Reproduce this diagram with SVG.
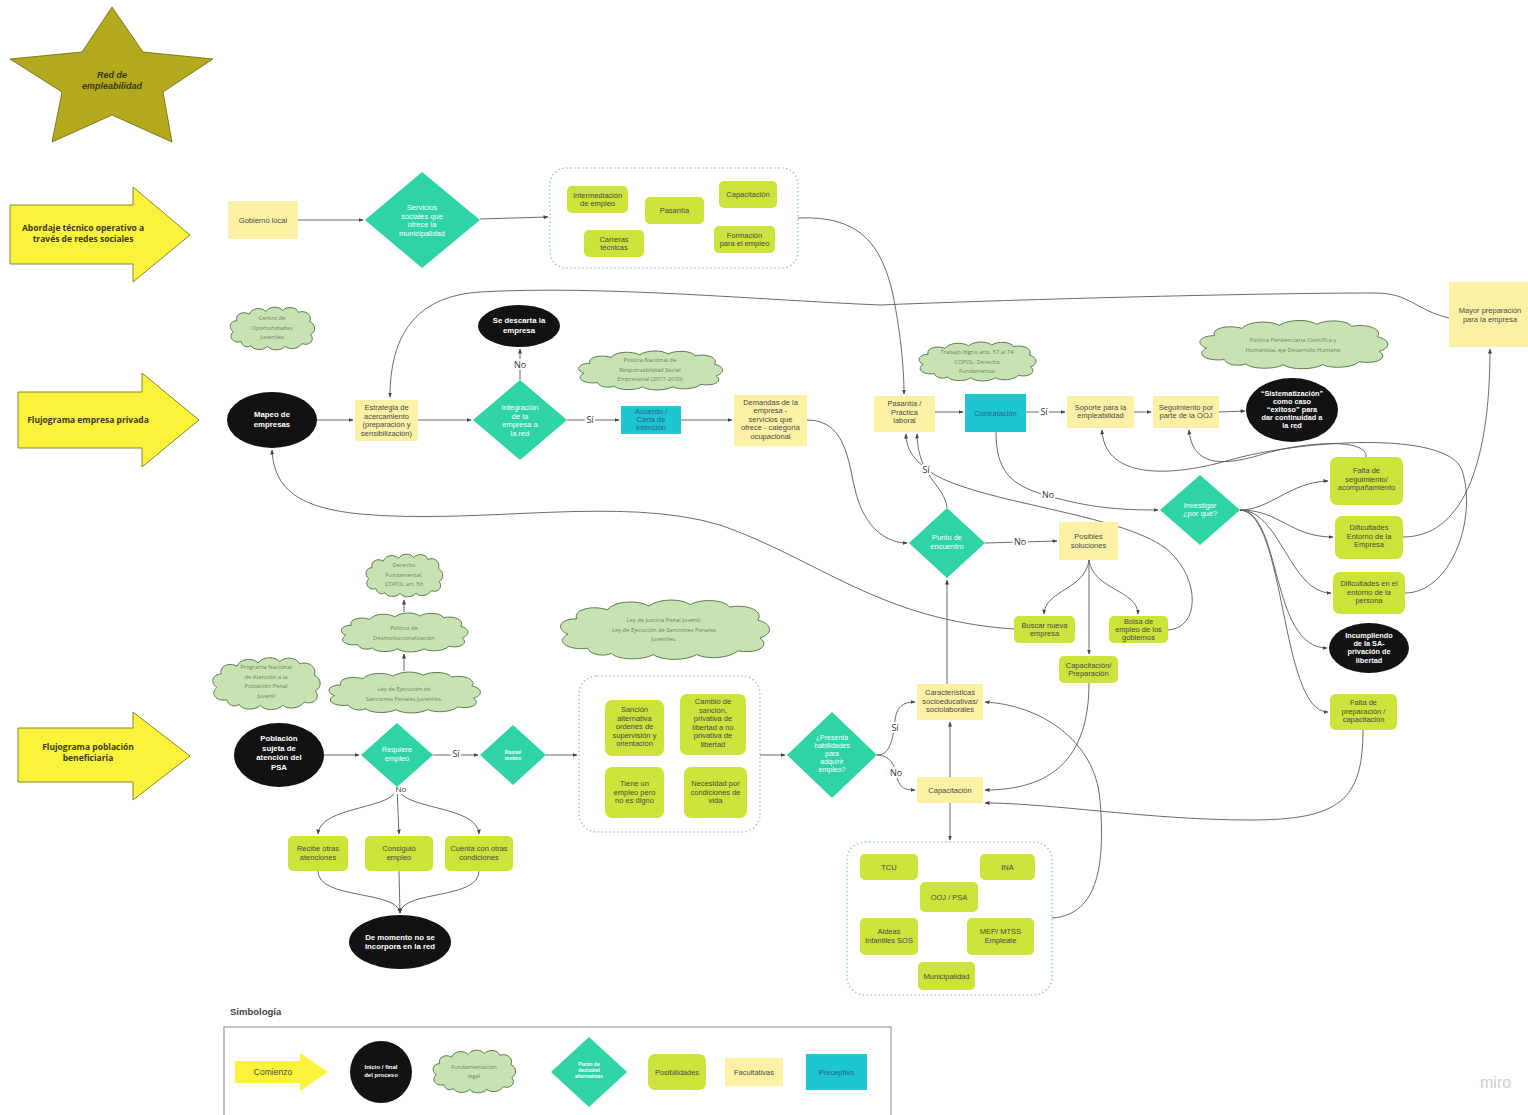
<svg xmlns="http://www.w3.org/2000/svg" width="1528" height="1115" viewBox="0 0 1528 1115">
<style>
text{font-family:"Liberation Sans",Arial,sans-serif}
.t{font-size:7.5px;fill:#4a4a4a;text-anchor:middle}
.w{font-size:7.5px;fill:#fff;text-anchor:middle}
.wb{font-size:7.8px;fill:#fff;text-anchor:middle;font-weight:bold}
.cl{font-family:"Open Sans","Liberation Sans",sans-serif;font-size:5.8px;fill:#6f7f62;text-anchor:middle}
.ar{font-family:"Open Sans","Liberation Sans",sans-serif;font-size:8.5px;font-weight:bold;fill:#3a3a10;text-anchor:middle}
.lb{font-family:"Open Sans","Liberation Sans",sans-serif;font-size:9px;fill:#333;text-anchor:middle;paint-order:stroke;stroke:#fff;stroke-width:4px}
.fy{fill:#fdf1a6}
.fl{fill:#cde23a}
.fc{fill:#1ec6d0}
.fd{fill:#2ed3a6}
.fb{fill:#121212}
.ya{fill:#fbf33b;stroke:#8a862e;stroke-width:1}
.grp{fill:none;stroke:#a9c8dc;stroke-width:1.6;stroke-dasharray:1.5 2.5}
.cn path{fill:none;stroke:#5a5a5a;stroke-width:0.9}
.cn .a{marker-end:url(#ah)}
</style>
<defs>
<marker id="ah" viewBox="0 0 10 10" refX="9" refY="5" markerWidth="5" markerHeight="5" orient="auto" markerUnits="userSpaceOnUse"><path d="M0,1 L10,5 L0,9 Z" fill="#444"/></marker>
<symbol id="cloud" viewBox="0 0 100 50" preserveAspectRatio="none"><path d="M15,40 C5,42 0,34 6,29 C0,25 2,17 10,17 C8,10 17,6 24,10 C27,3 38,2 43,7 C48,1 58,1 62,6 C67,1 78,2 80,8 C88,5 96,11 93,18 C100,21 100,29 94,32 C99,38 93,45 84,42 C80,48 70,49 65,45 C60,50 49,50 45,45 C40,50 28,49 26,44 C22,47 16,45 15,40 Z" fill="#c7e3b2" stroke="#5f7a50" stroke-width="1" vector-effect="non-scaling-stroke"/></symbol>
</defs>
<rect width="1528" height="1115" fill="#fff"/>

<g id="star"><polygon points="112,7 143,52 213,59 163,92 172,142 112,115 52,142 62,92 10,59 82,52" fill="#b3a91c" stroke="#6b6410" stroke-width="0.8"/><text x="112" y="78" text-anchor="middle" font-family="Open Sans,Liberation Sans,sans-serif" font-size="9" font-weight="bold" font-style="italic" fill="#3a3a10">Red de<tspan x="112" dy="11">empleabilidad</tspan></text></g>

<g id="arrow-abordaje"><polygon class="ya" points="10,205 133,205 133,187 190,235 133,282 133,264 10,264"/><text class="ar" x="83" y="231">Abordaje técnico operativo a<tspan x="83" dy="11">través de redes sociales</tspan></text></g>
<g id="arrow-empresa"><polygon class="ya" points="18,392 142,392 142,373 199,420 142,467 142,448 18,448"/><text class="ar" x="88" y="423">Flujograma empresa privada</text></g>
<g id="arrow-poblacion"><polygon class="ya" points="18,728 133,728 133,712 190,756 133,800 133,782 18,782"/><text class="ar" x="88" y="750">Flujograma población<tspan x="88" dy="11">beneficiaria</tspan></text></g>

<g class="cn" id="connectors">
<path class="a" d="M298,220 L363,220"/>
<path class="a" d="M480,219 L548,217"/>
<path class="a" d="M798,218 C860,215 882,245 893,295 C901,335 904,370 904,394"/>
<path class="a" d="M1449,318 C1415,310 1410,293 1375,293 C1250,293 1000,300 880,305 C760,300 600,285 480,292 C420,296 390,330 390,397"/>
<path class="a" d="M317,420 L353,420"/>
<path class="a" d="M418,420 L471,420"/>
<path class="a" d="M520,380 L520,349"/>
<path class="a" d="M567,420 L619,420"/>
<path class="a" d="M681,420 L732,420"/>
<path class="a" d="M807,420 C850,420 848,470 858,500 C868,530 888,543 907,543"/>
<path class="a" d="M935,412 L963,412"/>
<path class="a" d="M1026,412 L1065,412"/>
<path class="a" d="M1134,412 L1151,412"/>
<path class="a" d="M1219,412 L1245,411"/>
<path class="a" d="M996,432 C996,470 1010,485 1045,495 C1090,508 1120,510 1158,510"/>
<path class="a" d="M1240,510 C1270,510 1290,482 1328,481"/>
<path class="a" d="M1240,510 C1280,510 1290,537 1333,537"/>
<path class="a" d="M1240,510 C1280,510 1290,593 1331,593"/>
<path class="a" d="M1240,510 C1282,512 1270,648 1327,648"/>
<path class="a" d="M1240,510 C1286,512 1280,712 1328,712"/>
<path class="a" d="M1366,457 C1368,437 1300,442 1260,455 C1220,467 1192,465 1189,430"/>
<path class="a" d="M1405,593 C1450,593 1478,520 1462,470 C1447,430 1300,440 1230,460 C1160,480 1104,475 1102,430"/>
<path class="a" d="M1403,537 C1460,537 1490,470 1490,349"/>
<path class="a" d="M1363,730 C1363,800 1340,820 1250,820 C1150,820 1050,803 985,803"/>
<path class="a" d="M947,508 C945,485 918,478 917,434"/>
<path class="a" d="M1168,630 C1200,628 1200,580 1170,552 C1130,515 990,505 935,475 C915,462 906,450 906,434"/>
<path class="a" d="M985,543 L1057,541"/>
<path class="a" d="M1089,560 C1085,590 1045,590 1044,614"/>
<path class="a" d="M1089,560 C1093,590 1138,590 1138,614"/>
<path class="a" d="M1089,560 L1089,654"/>
<path class="a" d="M1014,629 C880,620 820,560 720,525 C620,495 480,525 360,514 C300,508 274,490 272,450"/>
<path class="a" d="M1089,683 C1089,760 1050,790 985,790"/>
<path class="a" d="M947,684 L947,580"/>
<path class="a" d="M950,777 L950,722"/>
<path class="a" d="M950,803 L950,840"/>
<path class="a" d="M1052,918 C1100,915 1105,860 1100,800 C1095,740 1040,705 985,702"/>
<path class="a" d="M877,755 C890,755 893,740 895,720 C897,705 905,702 915,702"/>
<path class="a" d="M877,755 C890,755 895,765 897,778 C900,788 905,790 915,790"/>
<path class="a" d="M760,755 L785,755"/>
<path class="a" d="M324,755 L359,755"/>
<path class="a" d="M433,755 L478,755"/>
<path class="a" d="M546,755 L577,755"/>
<path class="a" d="M397,787 C397,810 320,805 318,834"/>
<path class="a" d="M397,787 L399,834"/>
<path class="a" d="M397,787 C400,810 478,805 479,834"/>
<path class="a" d="M318,871 C318,900 398,890 400,913"/>
<path class="a" d="M399,871 L400,913"/>
<path class="a" d="M479,871 C479,900 402,890 400,913"/>
<path class="a" d="M404,671 L404,654"/>
<path class="a" d="M404,612 L404,600"/>
<text class="lb" x="520" y="368">No</text>
<text class="lb" x="590" y="423">Sí</text>
<text class="lb" x="1044" y="415">Sí</text>
<text class="lb" x="1048" y="498">No</text>
<text class="lb" x="926" y="473">Sí</text>
<text class="lb" x="1020" y="545">No</text>
<text class="lb" x="895" y="731">Sí</text>
<text class="lb" x="896" y="776">No</text>
<text class="lb" x="456" y="757">Sí</text>
<text class="lb" x="401" y="792" style="font-size:8px">No</text>
</g>

<g id="gobierno-local"><rect class="fy" x="228" y="201" width="70" height="38"/><text class="t" x="263" y="222.6">Gobierno local</text></g>
<g id="servicios"><polygon class="fd" points="422,172 480,220 422,268 365,220"/><text class="w" x="422" y="210">Servicios<tspan x="422" dy="8.5">sociales que</tspan><tspan x="422" dy="8.5">ofrece la</tspan><tspan x="422" dy="8.5">municipalidad</tspan></text></g>
<g id="grupo-servicios"><rect class="grp" x="550" y="168" width="248" height="100" rx="16"/>
<rect class="fl" x="567" y="186" width="61" height="27" rx="5"/><text class="t" x="597.5" y="197.5">Intermediación<tspan x="597.5" dy="8.5">de empleo</tspan></text>
<rect class="fl" x="645" y="197" width="59" height="27" rx="5"/><text class="t" x="674.5" y="213">Pasantía</text>
<rect class="fl" x="719" y="181" width="58" height="27" rx="5"/><text class="t" x="748" y="197">Capacitación</text>
<rect class="fl" x="584" y="230" width="60" height="27" rx="5"/><text class="t" x="614" y="241.5">Carreras<tspan x="614" dy="8.5">técnicas</tspan></text>
<rect class="fl" x="714" y="226" width="61" height="27" rx="5"/><text class="t" x="744.5" y="237.5">Formación<tspan x="744.5" dy="8.5">para el empleo</tspan></text></g>

<g id="centro-oportunidades"><use href="#cloud" x="228" y="305" width="88" height="46"/><text class="cl" x="272" y="320">Centro de<tspan x="272" dy="9.5">Oportunidades</tspan><tspan x="272" dy="9.5">Juveniles</tspan></text></g>
<g id="mapeo"><ellipse class="fb" cx="272" cy="420" rx="45" ry="28"/><text class="wb" x="272" y="417">Mapeo de<tspan x="272" dy="9.5">empresas</tspan></text></g>
<g id="estrategia"><rect class="fy" x="355" y="400" width="63" height="41"/><text class="t" x="386.5" y="410">Estrategia de<tspan x="386.5" dy="8.5">acercamiento</tspan><tspan x="386.5" dy="8.5">(preparación y</tspan><tspan x="386.5" dy="8.5">sensibilización)</tspan></text></g>
<g id="integracion"><polygon class="fd" points="520,380 567,420 520,460 473,420"/><text class="w" x="520" y="410">Integración<tspan x="520" dy="8.5">de la</tspan><tspan x="520" dy="8.5">empresa a</tspan><tspan x="520" dy="8.5">la red</tspan></text></g>
<g id="descarta"><ellipse class="fb" cx="519" cy="326" rx="41" ry="21"/><text class="wb" x="519" y="323">Se descarta la<tspan x="519" dy="9.5">empresa</tspan></text></g>
<g id="politica-rse"><use href="#cloud" x="575" y="349" width="150" height="42"/><text class="cl" x="650" y="362">Política Nacional de<tspan x="650" dy="9.5">Responsabilidad Social</tspan><tspan x="650" dy="9.5">Empresarial (2017-2030)</tspan></text></g>
<g id="acuerdo"><rect class="fc" x="621" y="406" width="60" height="28"/><text class="t" x="651" y="414" style="fill:#2a5f8a">Acuerdo /<tspan x="651" dy="8">Carta de</tspan><tspan x="651" dy="8">intención</tspan></text></g>
<g id="demandas"><rect class="fy" x="734" y="395" width="73" height="51"/><text class="t" x="770.5" y="404.5">Demandas de la<tspan x="770.5" dy="8.5">empresa -</tspan><tspan x="770.5" dy="8.5">servicios que</tspan><tspan x="770.5" dy="8.5">ofrece - categoría</tspan><tspan x="770.5" dy="8.5">ocupacional</tspan></text></g>
<g id="pasantia-practica"><rect class="fy" x="874" y="396" width="61" height="36"/><text class="t" x="904.5" y="406">Pasantía /<tspan x="904.5" dy="8.5">Práctica</tspan><tspan x="904.5" dy="8.5">laboral</tspan></text></g>
<g id="trabajo-digno"><use href="#cloud" x="916" y="340" width="122" height="42"/><text class="cl" x="977" y="354">Trabajo digno arts. 57 al 74<tspan x="977" dy="9.5">COPOL- Derecho</tspan><tspan x="977" dy="9.5">Fundamental</tspan></text></g>
<g id="contratacion"><rect class="fc" x="965" y="394" width="61" height="38"/><text class="t" x="995.5" y="415.5" style="fill:#2a5f8a">Contratación</text></g>
<g id="soporte"><rect class="fy" x="1067" y="396" width="67" height="32"/><text class="t" x="1100.5" y="409.5">Soporte para la<tspan x="1100.5" dy="8.5">empleabilidad</tspan></text></g>
<g id="seguimiento"><rect class="fy" x="1153" y="396" width="66" height="32"/><text class="t" x="1186" y="409.5">Seguimiento por<tspan x="1186" dy="8.5">parte de la OOJ</tspan></text></g>
<g id="sistematizacion"><ellipse class="fb" cx="1292" cy="410" rx="46" ry="32"/><text class="wb" x="1292" y="395.5" style="font-size:7.3px">“Sistematización”<tspan x="1292" dy="8">como caso</tspan><tspan x="1292" dy="8">“exitoso” para</tspan><tspan x="1292" dy="8">dar continuidad a</tspan><tspan x="1292" dy="8">la red</tspan></text></g>
<g id="politica-penitenciaria"><use href="#cloud" x="1195" y="318" width="196" height="52"/><text class="cl" x="1293" y="342">Política Penitenciaria Científica y<tspan x="1293" dy="10">Humanista, eje Desarrollo Humano</tspan></text></g>
<g id="mayor-preparacion"><rect class="fy" x="1449" y="282" width="79" height="65"/><text class="t" x="1490" y="313">Mayor preparación<tspan x="1490" dy="8.5">para la empresa</tspan></text></g>
<g id="investigar"><polygon class="fd" points="1200,475 1240,510 1200,545 1160,510"/><text class="w" x="1200" y="507.5">Investigar<tspan x="1200" dy="8.5">¿por qué?</tspan></text></g>
<g id="falta-seguimiento"><rect class="fl" x="1330" y="457" width="73" height="48" rx="7"/><text class="t" x="1366.5" y="473">Falta de<tspan x="1366.5" dy="8.5">seguimiento/</tspan><tspan x="1366.5" dy="8.5">acompañamiento</tspan></text></g>
<g id="dif-empresa"><rect class="fl" x="1335" y="516" width="68" height="43" rx="7"/><text class="t" x="1369" y="530">Dificultades<tspan x="1369" dy="8.5">Entorno de la</tspan><tspan x="1369" dy="8.5">Empresa</tspan></text></g>
<g id="dif-persona"><rect class="fl" x="1333" y="572" width="72" height="42" rx="7"/><text class="t" x="1369" y="586">Dificultades en el<tspan x="1369" dy="8.5">entorno de la</tspan><tspan x="1369" dy="8.5">persona</tspan></text></g>
<g id="incumpliendo"><ellipse class="fb" cx="1369" cy="648" rx="40" ry="25"/><text class="wb" x="1369" y="638" style="font-size:7.3px">Incumpliendo<tspan x="1369" dy="8.2">de la SA-</tspan><tspan x="1369" dy="8.2">privación de</tspan><tspan x="1369" dy="8.2">libertad</tspan></text></g>
<g id="falta-preparacion"><rect class="fl" x="1330" y="694" width="67" height="36" rx="6"/><text class="t" x="1363.5" y="705">Falta de<tspan x="1363.5" dy="8.5">preparación /</tspan><tspan x="1363.5" dy="8.5">capacitación</tspan></text></g>
<g id="punto-encuentro"><polygon class="fd" points="947,508 985,543 947,578 909,543"/><text class="w" x="947" y="540">Punto de<tspan x="947" dy="8.5">encuentro</tspan></text></g>
<g id="posibles"><rect class="fy" x="1059" y="522" width="59" height="38"/><text class="t" x="1088.5" y="539">Posibles<tspan x="1088.5" dy="8.5">soluciones</tspan></text></g>
<g id="buscar"><rect class="fl" x="1014" y="616" width="61" height="27" rx="5"/><text class="t" x="1044.5" y="627.5">Buscar nueva<tspan x="1044.5" dy="8.5">empresa</tspan></text></g>
<g id="bolsa"><rect class="fl" x="1109" y="616" width="59" height="27" rx="5"/><text class="t" x="1138.5" y="623.5">Bolsa de<tspan x="1138.5" dy="8">empleo de los</tspan><tspan x="1138.5" dy="8">gobiernos</tspan></text></g>
<g id="capacitacion-preparacion"><rect class="fl" x="1059" y="656" width="59" height="27" rx="5"/><text class="t" x="1088.5" y="667.5">Capacitación/<tspan x="1088.5" dy="8.5">Preparación</tspan></text></g>
<g id="caracteristicas"><rect class="fy" x="917" y="684" width="66" height="36"/><text class="t" x="950" y="695">Características<tspan x="950" dy="8.5">socioeducativas/</tspan><tspan x="950" dy="8.5">sociolaborales</tspan></text></g>
<g id="capacitacion"><rect class="fy" x="917" y="777" width="66" height="26"/><text class="t" x="950" y="792.6">Capacitación</text></g>
<g id="grupo-capacitacion"><rect class="grp" x="847" y="842" width="205" height="153" rx="18"/>
<rect class="fl" x="860" y="854" width="58" height="26" rx="5"/><text class="t" x="889" y="869.6">TCU</text>
<rect class="fl" x="980" y="854" width="55" height="26" rx="5"/><text class="t" x="1007.5" y="869.6">INA</text>
<rect class="fl" x="920" y="882" width="58" height="30" rx="5"/><text class="t" x="949" y="899.6">OOJ / PSA</text>
<rect class="fl" x="860" y="918" width="58" height="37" rx="5"/><text class="t" x="889" y="934">Aldeas<tspan x="889" dy="8.5">Infantiles SOS</tspan></text>
<rect class="fl" x="967" y="918" width="67" height="37" rx="5"/><text class="t" x="1000.5" y="934">MEP/ MTSS<tspan x="1000.5" dy="8.5">Empleate</tspan></text>
<rect class="fl" x="918" y="962" width="57" height="28" rx="5"/><text class="t" x="946.5" y="978.6">Municipalidad</text></g>
<g id="presenta"><polygon class="fd" points="832,712 877,755 832,798 787,755"/><text class="w" x="832" y="740" style="font-size:7px">¿Presenta<tspan x="832" dy="8">habilidades</tspan><tspan x="832" dy="8">para</tspan><tspan x="832" dy="8">adquirir</tspan><tspan x="832" dy="8">empleo?</tspan></text></g>
<g id="grupo-razones"><rect class="grp" x="579" y="676" width="181" height="156" rx="18"/>
<rect class="fl" x="605" y="700" width="59" height="56" rx="7"/><text class="t" x="634.5" y="712">Sanción<tspan x="634.5" dy="8.5">alternativa</tspan><tspan x="634.5" dy="8.5">ordenes de</tspan><tspan x="634.5" dy="8.5">supervisión y</tspan><tspan x="634.5" dy="8.5">orientación</tspan></text>
<rect class="fl" x="680" y="694" width="66" height="61" rx="7"/><text class="t" x="713" y="704">Cambio de<tspan x="713" dy="8.5">sanción,</tspan><tspan x="713" dy="8.5">privativa de</tspan><tspan x="713" dy="8.5">libertad a no</tspan><tspan x="713" dy="8.5">privativa de</tspan><tspan x="713" dy="8.5">libertad</tspan></text>
<rect class="fl" x="605" y="767" width="59" height="51" rx="7"/><text class="t" x="634.5" y="786">Tiene un<tspan x="634.5" dy="8.5">empleo pero</tspan><tspan x="634.5" dy="8.5">no es digno</tspan></text>
<rect class="fl" x="684" y="767" width="63" height="51" rx="7"/><text class="t" x="715.5" y="786">Necesidad por<tspan x="715.5" dy="8.5">condiciones de</tspan><tspan x="715.5" dy="8.5">vida</tspan></text></g>
<g id="ley-justicia"><use href="#cloud" x="555" y="597" width="218" height="64"/><text class="cl" x="664" y="622">Ley de Justicia Penal Juvenil.<tspan x="664" dy="9.5">Ley de Ejecución de Sanciones Penales</tspan><tspan x="664" dy="9.5">Juveniles.</tspan></text></g>
<g id="poblacion"><ellipse class="fb" cx="279" cy="755" rx="45" ry="32"/><text class="wb" x="279" y="741">Población<tspan x="279" dy="9.5">sujeta de</tspan><tspan x="279" dy="9.5">atención del</tspan><tspan x="279" dy="9.5">PSA</tspan></text></g>
<g id="requiere"><polygon class="fd" points="397,723 433,755 397,787 361,755"/><text class="w" x="397" y="752">Requiere<tspan x="397" dy="8.5">empleo</tspan></text></g>
<g id="razon"><polygon class="fd" points="513,725 546,755 513,785 480,755"/><text class="w" x="513" y="753.5" style="font-size:5px;font-weight:bold">Razón/<tspan x="513" dy="6">motivo</tspan></text></g>
<g id="recibe"><rect class="fl" x="288" y="836" width="60" height="35" rx="5"/><text class="t" x="318" y="851">Recibe otras<tspan x="318" dy="8.5">atenciones</tspan></text></g>
<g id="consiguio"><rect class="fl" x="365" y="836" width="68" height="35" rx="5"/><text class="t" x="399" y="851">Consiguió<tspan x="399" dy="8.5">empleo</tspan></text></g>
<g id="cuenta"><rect class="fl" x="445" y="836" width="68" height="35" rx="5"/><text class="t" x="479" y="851">Cuenta con otras<tspan x="479" dy="8.5">condiciones</tspan></text></g>
<g id="de-momento"><ellipse class="fb" cx="400" cy="942" rx="51" ry="27"/><text class="wb" x="400" y="940">De momento no se<tspan x="400" dy="9">incorpora en la red</tspan></text></g>
<g id="derecho-fundamental"><use href="#cloud" x="364" y="552" width="80" height="46"/><text class="cl" x="404" y="567">Derecho<tspan x="404" dy="9.5">Fundamental,</tspan><tspan x="404" dy="9.5">COPOL art. 56</tspan></text></g>
<g id="desinstitucionalizacion"><use href="#cloud" x="338" y="611" width="132" height="42"/><text class="cl" x="404" y="630">Política de<tspan x="404" dy="10">Desinstitucionalización</tspan></text></g>
<g id="ley-ejecucion"><use href="#cloud" x="325" y="670" width="158" height="44"/><text class="cl" x="404" y="691">Ley de Ejecución de<tspan x="404" dy="10">Sanciones Penales Juveniles.</tspan></text></g>
<g id="programa-nacional"><use href="#cloud" x="210" y="655" width="112" height="56"/><text class="cl" x="266" y="669">Programa Nacional<tspan x="266" dy="9.5">de Atención a la</tspan><tspan x="266" dy="9.5">Población Penal</tspan><tspan x="266" dy="9.5">Juvenil</tspan></text></g>

<g id="leyenda">
<text x="230" y="1015" font-family="Open Sans,Liberation Sans,sans-serif" font-size="9.5" font-weight="bold" fill="#444">Simbología</text>
<rect x="224" y="1027" width="667" height="100" fill="none" stroke="#8a8a8a" stroke-width="1"/>
<polygon points="235,1061 300,1061 300,1053 328,1072 300,1091 300,1083 235,1083" fill="#fbf33b"/><text class="t" x="273" y="1075" style="font-size:8.5px">Comienzo</text>
<circle class="fb" cx="381" cy="1072" r="31"/><text class="wb" x="381" y="1069" style="font-size:6px">Inicio / final<tspan x="381" dy="8">del proceso</tspan></text>
<use href="#cloud" x="431" y="1048" width="86" height="46"/><text class="cl" x="474" y="1069">Fundamentación<tspan x="474" dy="9">legal</tspan></text>
<polygon class="fd" points="589,1037 627,1072 589,1107 551,1072"/><text class="w" x="589" y="1066" style="font-size:5px;font-weight:bold">Punto de<tspan x="589" dy="6">decisión/</tspan><tspan x="589" dy="6">alternativas</tspan></text>
<rect class="fl" x="648" y="1054" width="58" height="36" rx="7"/><text class="t" x="677" y="1074.6">Posibilidades</text>
<rect class="fy" x="725" y="1058" width="58" height="28"/><text class="t" x="754" y="1074.6">Facultativas</text>
<rect class="fc" x="806" y="1054" width="61" height="36"/><text class="t" x="836.5" y="1074.6" style="fill:#2a5f8a">Preceptivo</text>
</g>
<text x="1480" y="1088" font-family="Liberation Sans,sans-serif" font-size="16" fill="#cfcfcf">miro</text>
</svg>
